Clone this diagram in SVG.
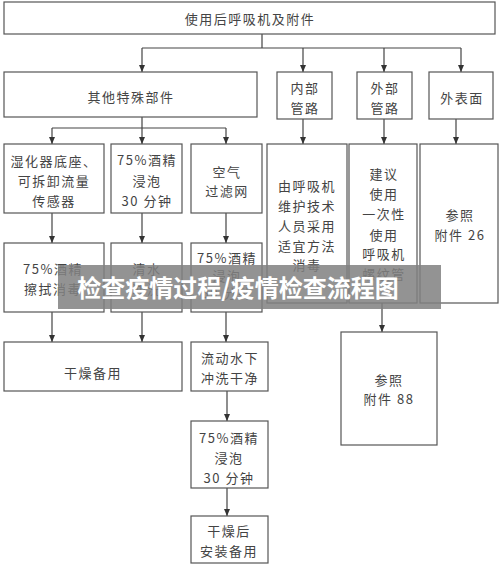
<svg xmlns="http://www.w3.org/2000/svg" width="500" height="575" viewBox="0 0 500 575">
<style>
.box{fill:#fff;stroke:#555;stroke-width:1.2}
.t{font-family:"Noto Sans CJK SC","Liberation Sans",sans-serif;font-size:13px;fill:#444;text-anchor:middle;dominant-baseline:central;letter-spacing:1.5px}
.ln{fill:none;stroke:#444;stroke-width:1.2}
.wm{font-family:"Noto Sans CJK SC","Liberation Sans",sans-serif;font-size:24px;font-weight:bold;fill:#fff;text-anchor:middle;dominant-baseline:central}
</style>
<defs>
<marker id="ah" markerWidth="8" markerHeight="8" refX="7" refY="4" orient="auto" markerUnits="userSpaceOnUse">
<path d="M0,1 L7,4 L0,7 Z" fill="#333"/>
</marker>
</defs>
<rect width="500" height="575" fill="#fff"/>
<g id="connectors">
<path class="ln" d="M262,34 V48 M142,48 H461"/>
<path class="ln" d="M142,48 V72" marker-end="url(#ah)"/>
<path class="ln" d="M303,48 V72" marker-end="url(#ah)"/>
<path class="ln" d="M384,48 V72" marker-end="url(#ah)"/>
<path class="ln" d="M461,48 V72" marker-end="url(#ah)"/>
<path class="ln" d="M142,117 V128 M52,128 H226"/>
<path class="ln" d="M52,128 V144" marker-end="url(#ah)"/>
<path class="ln" d="M142,128 V144" marker-end="url(#ah)"/>
<path class="ln" d="M226,128 V144" marker-end="url(#ah)"/>
<path class="ln" d="M303,119 V144" marker-end="url(#ah)"/>
<path class="ln" d="M384,119 V144" marker-end="url(#ah)"/>
<path class="ln" d="M456,119 V144" marker-end="url(#ah)"/>
<path class="ln" d="M52,213 V243" marker-end="url(#ah)"/>
<path class="ln" d="M142,213 V243" marker-end="url(#ah)"/>
<path class="ln" d="M226,213 V243" marker-end="url(#ah)"/>
<path class="ln" d="M52,312 V342" marker-end="url(#ah)"/>
<path class="ln" d="M142,312 V342" marker-end="url(#ah)"/>
<path class="ln" d="M226,312 V342" marker-end="url(#ah)"/>
<path class="ln" d="M382,303 V332" marker-end="url(#ah)"/>
<path class="ln" d="M227,391 V421" marker-end="url(#ah)"/>
<path class="ln" d="M227,488 V516" marker-end="url(#ah)"/>
</g>
<g id="n_top"><rect class="box" x="4" y="2" width="491" height="32"/><text class="t" x="250" y="18">使用后呼吸机及附件</text></g>
<g id="n_other"><rect class="box" x="4" y="72" width="253" height="45"/><text class="t" x="131" y="96">其他特殊部件</text></g>
<g id="n_inner"><rect class="box" x="277" y="72" width="55" height="47"/><text class="t" x="305" y="87">内部</text><text class="t" x="305" y="107">管路</text></g>
<g id="n_outer"><rect class="box" x="357" y="72" width="55" height="47"/><text class="t" x="385" y="87">外部</text><text class="t" x="385" y="107">管路</text></g>
<g id="n_surface"><rect class="box" x="429" y="72" width="64" height="47"/><text class="t" x="462" y="97">外表面</text></g>
<g id="n_humid"><rect class="box" x="4" y="144" width="100" height="69"/><text class="t" x="54" y="160">湿化器底座、</text><text class="t" x="54" y="180">可拆卸流量</text><text class="t" x="54" y="200">传感器</text></g>
<g id="n_soak1"><rect class="box" x="111" y="144" width="71" height="69"/><text class="t" x="147" y="159">75%酒精</text><text class="t" x="147" y="180">浸泡</text><text class="t" x="147" y="200">30 分钟</text></g>
<g id="n_filter"><rect class="box" x="191" y="144" width="71" height="69"/><text class="t" x="227" y="171">空气</text><text class="t" x="227" y="190">过滤网</text></g>
<g id="n_tech"><rect class="box" x="267" y="144" width="80" height="159"/><text class="t" x="307" y="185">由呼吸机</text><text class="t" x="307" y="205">维护技术</text><text class="t" x="307" y="225">人员采用</text><text class="t" x="307" y="245">适宜方法</text><text class="t" x="307" y="264">消毒</text></g>
<g id="n_disp"><rect class="box" x="349" y="144" width="68" height="159"/><text class="t" x="384" y="173">建议</text><text class="t" x="384" y="193">使用</text><text class="t" x="384" y="213">一次性</text><text class="t" x="384" y="234">使用</text><text class="t" x="384" y="253">呼吸机</text><text class="t" x="384" y="273">螺纹管</text></g>
<g id="n_ref26"><rect class="box" x="420" y="144" width="78" height="159"/><text class="t" x="460" y="214">参照</text><text class="t" x="460" y="234">附件 26</text></g>
<g id="n_wipe"><rect class="box" x="4" y="243" width="100" height="69"/><text class="t" x="53" y="268">75%酒精</text><text class="t" x="53" y="288">擦拭消毒</text></g>
<g id="n_rinse"><rect class="box" x="111" y="243" width="71" height="69"/><text class="t" x="147" y="268">清水</text><text class="t" x="147" y="288">冲洗</text></g>
<g id="n_soak2"><rect class="box" x="191" y="243" width="71" height="69"/><text class="t" x="227" y="257">75%酒精</text><text class="t" x="227" y="275">浸泡</text><text class="t" x="227" y="292">30 分钟</text></g>
<g id="n_dry"><rect class="box" x="4" y="342" width="178" height="49"/><text class="t" x="93" y="372">干燥备用</text></g>
<g id="n_flow"><rect class="box" x="191" y="342" width="77" height="49"/><text class="t" x="230" y="357">流动水下</text><text class="t" x="230" y="377">冲洗干净</text></g>
<g id="n_ref88"><rect class="box" x="341" y="332" width="96" height="113"/><text class="t" x="389" y="379">参照</text><text class="t" x="389" y="398">附件 88</text></g>
<g id="n_soak3"><rect class="box" x="191" y="421" width="77" height="67"/><text class="t" x="229" y="437">75%酒精</text><text class="t" x="229" y="457">浸泡</text><text class="t" x="229" y="477">30 分钟</text></g>
<g id="n_final"><rect class="box" x="191" y="516" width="77" height="47"/><text class="t" x="229" y="530">干燥后</text><text class="t" x="229" y="550">安装备用</text></g>
<g id="watermark"><rect x="58" y="265" width="383" height="44" fill="#808080" opacity="0.85"/><text class="wm" x="238" y="286">检查疫情过程/疫情检查流程图</text></g>
</svg>
